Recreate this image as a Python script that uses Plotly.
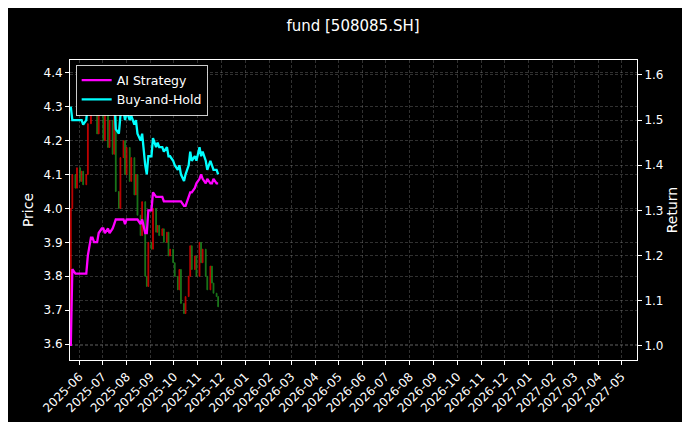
import pandas as pd
import plotly.graph_objects as go

# price closes, roughly every 2nd trading day from 2025-05-21
close = [4.00, 4.10, 4.06, 4.12,
         4.08, 4.11, 4.07, 4.10,
         4.25, 4.38, 4.30, 4.35, 4.22, 4.28, 4.33,
         4.20, 4.30, 4.18, 4.26, 4.16,
         4.28, 4.05, 4.00, 4.15, 4.20, 4.10,
         4.18, 4.08, 4.15, 4.04, 4.10,
         3.98, 3.92, 4.02, 3.80, 3.77, 3.90,
         3.88, 4.00, 3.93, 3.95, 3.92,
         3.94, 3.90, 3.93, 3.86, 3.88,
         3.84, 3.80, 3.76, 3.82,
         3.72, 3.69, 3.74, 3.80, 3.89, 3.82,
         3.86, 3.80, 3.90, 3.84, 3.88,
         3.80, 3.76, 3.83, 3.78, 3.75,
         3.74, 3.71]
first_open = 3.60

ai_return = [1.00, 1.17, 1.16, 1.16,
             1.16, 1.16, 1.16, 1.16,
             1.20, 1.24, 1.24, 1.23, 1.23, 1.25, 1.26,
             1.26, 1.25, 1.26, 1.25, 1.26,
             1.27, 1.28, 1.28, 1.28, 1.28, 1.27,
             1.28, 1.28, 1.28, 1.28, 1.28,
             1.28, 1.27, 1.28, 1.25, 1.25, 1.30,
             1.30, 1.34, 1.33, 1.33, 1.33,
             1.33, 1.32, 1.32, 1.32, 1.32,
             1.32, 1.32, 1.32, 1.32,
             1.32, 1.31, 1.31, 1.33, 1.34, 1.34,
             1.35, 1.36, 1.37, 1.38, 1.37,
             1.36, 1.37, 1.36, 1.36, 1.37,
             1.36, 1.36]

bh_return = [1.53, 1.50, 1.50, 1.50,
             1.50, 1.50, 1.49, 1.50,
             1.54, 1.58, 1.55, 1.57, 1.53, 1.55, 1.56,
             1.53, 1.55, 1.52, 1.54, 1.52,
             1.55, 1.48, 1.47, 1.51, 1.52, 1.50,
             1.52, 1.50, 1.51, 1.49, 1.50,
             1.47, 1.455, 1.47, 1.40, 1.38, 1.42,
             1.42, 1.46, 1.44, 1.45, 1.44,
             1.44, 1.43, 1.44, 1.42, 1.42,
             1.41, 1.40, 1.39, 1.40,
             1.38, 1.365, 1.38, 1.40, 1.43, 1.41,
             1.42, 1.41, 1.44, 1.42, 1.43,
             1.41, 1.39, 1.41, 1.40, 1.39,
             1.39, 1.38]

dates = pd.bdate_range("2025-05-21", periods=len(close) * 2)[::2]
opens = [first_open] + close[:-1]
highs = [max(o, c) for o, c in zip(opens, close)]
lows = [min(o, c) for o, c in zip(opens, close)]

fig = go.Figure()
fig.add_trace(go.Candlestick(
    x=dates, open=opens, high=highs, low=lows, close=close,
    increasing=dict(line=dict(color="#e00000", width=1), fillcolor="#e00000"),
    decreasing=dict(line=dict(color="#1f8a1f", width=1), fillcolor="#1f8a1f"),
    whiskerwidth=0, opacity=0.85, showlegend=False,
))
fig.add_trace(go.Scatter(x=dates, y=ai_return, name="AI Strategy", yaxis="y2",
                         mode="lines", line=dict(color="#ff00ff", width=2.3)))
fig.add_trace(go.Scatter(x=dates, y=bh_return, name="Buy-and-Hold", yaxis="y2",
                         mode="lines", line=dict(color="#00ffff", width=2.3)))

grid = dict(showgrid=True, gridcolor="rgba(140,140,140,0.35)", gridwidth=0.5, griddash="3px,2px")
fig.update_layout(
    width=690, height=422,
    paper_bgcolor="black", plot_bgcolor="black",
    font=dict(family="DejaVu Sans", color="white", size=12),
    title=dict(text="fund [508085.SH]", x=0.5, y=0.97, font=dict(size=15)),
    margin=dict(l=62, r=61, t=52, b=70),
    xaxis=dict(range=["2025-05-20", "2027-05-21"], dtick="M1", tickformat="%Y-%m",
               tickangle=-45, ticks="outside", tickcolor="white", ticklen=4,
               showline=True, linecolor="white", mirror=True,
               rangeslider=dict(visible=False), zeroline=False, **grid),
    yaxis=dict(range=[3.553, 4.438], dtick=0.1, tickformat=".1f",
               title=dict(text="Price", standoff=6),
               ticks="outside", tickcolor="white", ticklen=4,
               showline=True, linecolor="white", mirror=True, zeroline=False, **grid),
    yaxis2=dict(range=[0.969, 1.633], dtick=0.1, tickformat=".1f",
                title=dict(text="Return", standoff=4),
                overlaying="y", side="right", ticks="outside", tickcolor="white", ticklen=4,
                zeroline=False, automargin=False, **grid),
    legend=dict(x=0.01, y=0.985, xanchor="left", yanchor="top",
                bgcolor="black", bordercolor="rgba(255,255,255,0.8)", borderwidth=1,
                font=dict(size=12.5)),
)

fig.write_html("out.html")
